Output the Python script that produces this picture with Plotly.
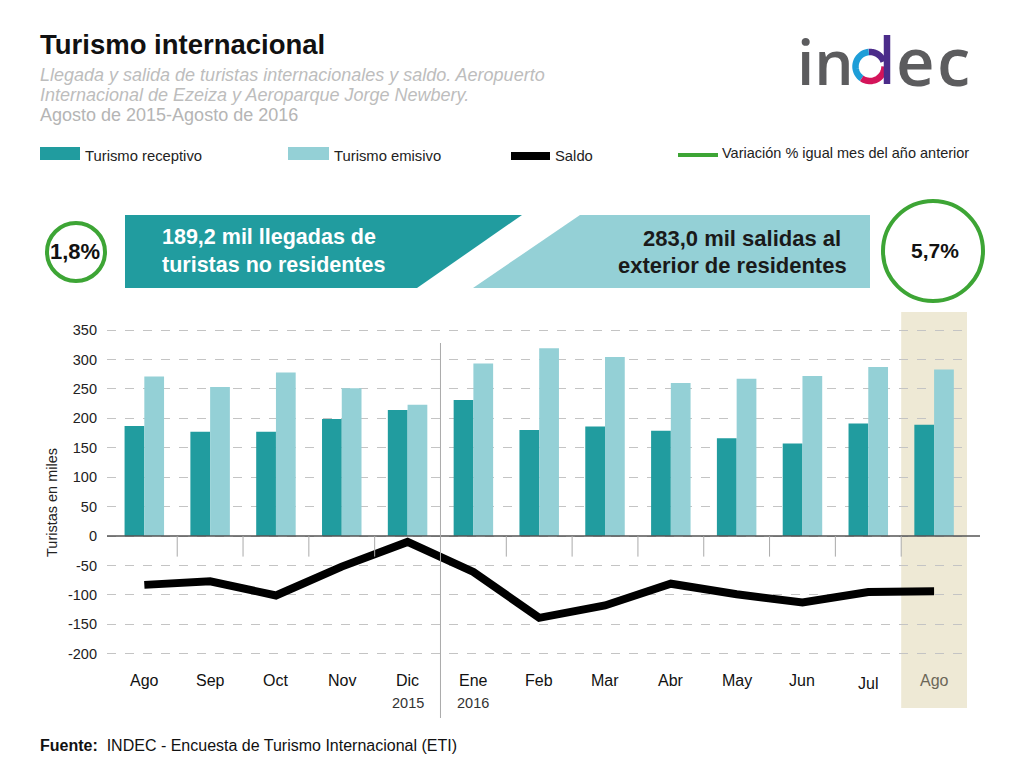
import math
import plotly.graph_objects as go

# datos (miles de turistas)
meses = ["Ago", "Sep", "Oct", "Nov", "Dic", "Ene", "Feb", "Mar", "Abr", "May", "Jun", "Jul", "Ago"]
receptivo = [187, 177, 177, 199, 214, 231, 180, 186, 179, 166, 157, 191, 189.2]
emisivo = [271, 253, 278, 251, 223, 293, 319, 304, 260, 267, 272, 287, 283.0]
saldo = [-83, -77, -101, -52, -10, -61, -139, -118, -81, -99, -113, -95, -94]
y_ticks = [-200, -150, -100, -50, 0, 50, 100, 150, 200, 250, 300, 350]

TEAL = "#219C9F"
LIGHT = "#94D0D6"
GREEN = "#3DA535"
FONT = "Liberation Sans, Arial, sans-serif"

# the page puts the figure 8px in from the corner; everything below is in page pixels
OFF = 8
W, H = 1011 - OFF, 770 - OFF
L, R, T, B = 107, 967, 312, 708
Y0, Y1 = -292.2, 380.6
X0, X1 = -0.567, 12.5


def fx(p):
    return (p - L) / (R - L)


def fy(p):
    return (B - p) / (B - T)


x = list(range(len(meses)))

fig = go.Figure()
fig.add_trace(go.Bar(x=x, y=receptivo, name="Turismo receptivo", marker_color=TEAL, marker_line_width=0))
fig.add_trace(go.Bar(x=x, y=emisivo, name="Turismo emisivo", marker_color=LIGHT, marker_line_width=0))
fig.add_trace(go.Scatter(x=x, y=saldo, name="Saldo", mode="lines",
                         line=dict(color="black", width=8)))

shapes = []
# franja del ultimo mes
shapes.append(dict(type="rect", xref="x", yref="paper", x0=11.5, x1=12.5, y0=0, y1=1,
                   fillcolor="#EEE9D5", line_width=0, layer="below"))
# eje cero
y0frac = (0 - Y0) / (Y1 - Y0)
shapes.append(dict(type="line", xref="paper", yref="paper", x0=0, x1=fx(980), y0=y0frac, y1=y0frac,
                   line=dict(color="#555555", width=1.5)))
# separadores entre meses
for k in range(12):
    if k == 4:
        continue
    shapes.append(dict(type="line", xref="x", yref="y", x0=k + 0.5, x1=k + 0.5, y0=0, y1=-35,
                       line=dict(color="#AAAAAA", width=1)))
# divisor de año
shapes.append(dict(type="line", xref="x", yref="paper", x0=4.5, x1=4.5, y0=fy(718), y1=fy(343),
                   line=dict(color="#AAAAAA", width=1)))

# leyenda
shapes.append(dict(type="rect", xref="paper", yref="paper", x0=fx(40), x1=fx(80), y0=fy(160), y1=fy(147),
                   fillcolor=TEAL, line_width=0))
shapes.append(dict(type="rect", xref="paper", yref="paper", x0=fx(288), x1=fx(329), y0=fy(160), y1=fy(147),
                   fillcolor=LIGHT, line_width=0))
shapes.append(dict(type="rect", xref="paper", yref="paper", x0=fx(511), x1=fx(550), y0=fy(160), y1=fy(152),
                   fillcolor="black", line_width=0))
shapes.append(dict(type="rect", xref="paper", yref="paper", x0=fx(678), x1=fx(718), y0=fy(157), y1=fy(153),
                   fillcolor=GREEN, line_width=0))

# banners
shapes.append(dict(type="path", xref="paper", yref="paper", fillcolor=TEAL, line_width=0,
                   path="M %f,%f L %f,%f L %f,%f L %f,%f Z" % (fx(125), fy(215), fx(522), fy(215),
                                                               fx(417), fy(288), fx(125), fy(288))))
shapes.append(dict(type="path", xref="paper", yref="paper", fillcolor=LIGHT, line_width=0,
                   path="M %f,%f L %f,%f L %f,%f L %f,%f Z" % (fx(580), fy(215), fx(870), fy(215),
                                                               fx(870), fy(288), fx(473), fy(288))))
# circulos
shapes.append(dict(type="circle", xref="paper", yref="paper", x0=fx(47), x1=fx(105), y0=fy(281), y1=fy(223),
                   line=dict(color=GREEN, width=4)))
shapes.append(dict(type="circle", xref="paper", yref="paper", x0=fx(883), x1=fx(983), y0=fy(301), y1=fy(201),
                   line=dict(color=GREEN, width=4)))


# logo: la "d"
def arc(cx, cy, r, a0, a1, n=24):
    pts = []
    for i in range(n + 1):
        a = math.radians(a0 + (a1 - a0) * i / n)
        pts.append((fx(cx + r * math.cos(a)), fy(cy - r * math.sin(a))))
    return "M " + " L ".join("%f,%f" % p for p in pts)


for a0, a1, col in [(20, 95, "#4B2C8A"), (95, 235, "#1E9ED8"), (235, 360, "#D4145A")]:
    shapes.append(dict(type="path", xref="paper", yref="paper", path=arc(870, 66.5, 14.5, a0, a1),
                       line=dict(color=col, width=6.5)))
shapes.append(dict(type="line", xref="paper", yref="paper", x0=fx(887), x1=fx(887), y0=fy(84), y1=fy(35),
                   line=dict(color="#4B2C8A", width=6.5)))

ann = []


def txt(px_, py_, text, size, color="#222222", anchor="left", weight="normal", **kw):
    ann.append(dict(xref="paper", yref="paper", x=fx(px_), y=fy(py_), text=text, showarrow=False,
                    xanchor=anchor, yanchor="middle",
                    font=dict(size=size, color=color, weight=weight, family=kw.pop("family", FONT)), **kw))


txt(38, 44, "<b>Turismo internacional</b>", 27.5, "#111111")
txt(38, 75, "<i>Llegada y salida de turistas internacionales y saldo. Aeropuerto</i>", 18, "#BDBDBD")
txt(38, 95, "<i>Internacional de Ezeiza y Aeroparque Jorge Newbery.</i>", 18, "#BDBDBD")
txt(38, 115, "Agosto de 2015-Agosto de 2016", 18, "#B5B5B5")

txt(83, 156, "Turismo receptivo", 14.8)
txt(332, 156, "Turismo emisivo", 14.8)
txt(553, 156, "Saldo", 14.8)
txt(720, 153, "Variación % igual mes del año anterior", 14.5)

txt(160, 251, "<b>189,2 mil llegadas de<br>turistas no residentes</b>", 21.5, "white", align="left")
txt(843, 238, "<b>283,0 mil salidas al</b>", 22, "#1A1A1A", anchor="right")
txt(849, 265, "<b>exterior de residentes</b>", 22, "#1A1A1A", anchor="right")
txt(75, 251, "<b>1,8%</b>", 22, "#111111", anchor="center")
txt(935, 250, "<b>5,7%</b>", 21, "#111111", anchor="center")

txt(795, 61, "in", 62, "#5C5C5E", weight=600, family="Open Sans, sans-serif")
txt(894, 60, "e", 67, "#5C5C5E", weight=600, family="Open Sans, sans-serif")
txt(972, 60, "c", 67, "#5C5C5E", anchor="right", weight=600, family="Open Sans, sans-serif")

txt(38, 745, "<b>Fuente:</b>  INDEC - Encuesta de Turismo Internacional (ETI)", 16, "#111111")

ann.append(dict(xref="paper", yref="paper", x=fx(52), y=fy(503), text="Turistas en miles", textangle=-90,
                showarrow=False, xanchor="center", yanchor="middle", font=dict(size=14.5, color="#222222",
                                                                                 family=FONT)))

for i, m in enumerate(meses):
    ann.append(dict(xref="x", yref="paper", x=i, y=fy(683 if m == "Jul" else 680), text=m, showarrow=False,
                    xanchor="center", yanchor="middle",
                    font=dict(size=16, color="#6B6657" if i == 12 else "#111111", family=FONT)))
ann.append(dict(xref="x", yref="paper", x=4, y=fy(703), text="2015", showarrow=False,
                xanchor="center", yanchor="middle", font=dict(size=14.5, color="#333333", family=FONT)))
ann.append(dict(xref="x", yref="paper", x=5, y=fy(703), text="2016", showarrow=False,
                xanchor="center", yanchor="middle", font=dict(size=14.5, color="#333333", family=FONT)))

fig.update_layout(
    width=W, height=H, autosize=False,
    margin=dict(l=L - OFF, r=1011 - R, t=T - OFF, b=770 - B),
    paper_bgcolor="white", plot_bgcolor="rgba(0,0,0,0)",
    showlegend=False, barmode="group", bargap=0.4, bargroupgap=0,
    shapes=shapes, annotations=ann,
    font=dict(family=FONT),
    xaxis=dict(range=[X0, X1], showticklabels=False, showgrid=False, zeroline=False, ticks=""),
    yaxis=dict(range=[Y0, Y1], tickvals=y_ticks, ticktext=[str(v) for v in y_ticks],
               showgrid=True, gridcolor="#C4C4C4", griddash="dash",
               gridwidth=1, zeroline=False, tickfont=dict(size=14.5, color="#222222"), ticks="",
               ticklabelstandoff=9),
)

fig.write_html("out.html")
